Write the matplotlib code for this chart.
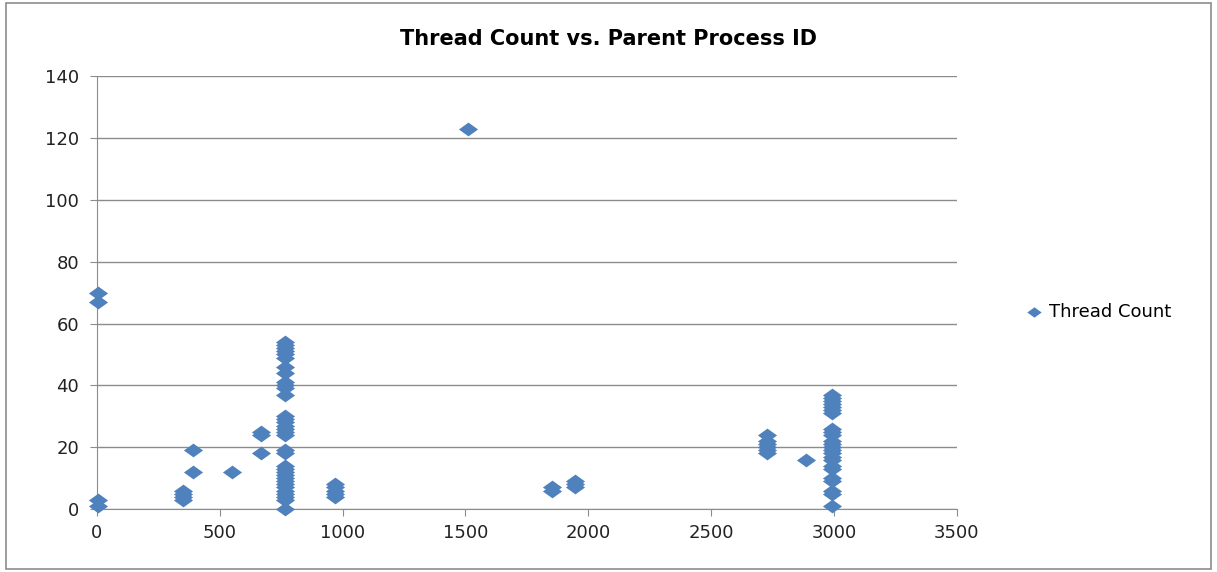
import numpy as np
import matplotlib.pyplot as plt
from matplotlib.patches import Rectangle

plt.rcParams['font.family'] = ['DejaVu Sans']

# parent process id -> thread counts seen for it
ppid = [4, 352, 392, 548, 668, 764, 968, 1512, 1852, 1944, 2728, 2888, 2992]
threads = [
    [1, 3, 67, 70],
    [3, 4, 5, 6],
    [12, 19],
    [12],
    [18, 24, 25],
    [0, 3, 4, 5, 6, 7, 8, 9, 10, 11, 12, 13, 14, 18, 19, 24, 25, 26, 27, 28,
     29, 30, 37, 39, 40, 41, 44, 46, 49, 50, 51, 52, 53, 54],
    [4, 5, 6, 7, 8],
    [123],
    [6, 7],
    [7, 8, 9],
    [18, 19, 20, 21, 22, 24],
    [16],
    [1, 5, 6, 9, 10, 13, 14, 16, 17, 18, 19, 20, 21, 22, 24, 25, 26, 31, 32,
     33, 34, 35, 36, 37],
]

x = []
y = []
for p, tl in zip(ppid, threads):
    for t in tl:
        x.append(p)
        y.append(t)

blue = '#4F81BD'
diamond = [(-1, 0), (0, 0.72), (1, 0), (0, -0.72), (-1, 0)]

fig = plt.figure(figsize=(12.17, 5.72), dpi=100)
ax = fig.add_axes([0.0797, 0.110, 0.7065, 0.757])

ax.scatter(x, y, marker=diamond, s=190, color=blue, linewidths=0,
           label='Thread Count', zorder=3, clip_on=False)

ax.set_xlim(0, 3500)
ax.set_ylim(0, 140)
ax.set_xticks(np.arange(0, 3501, 500))
ax.set_yticks(np.arange(0, 141, 20))
ax.yaxis.grid(True, color='#8c8c8c', linewidth=1)
ax.set_axisbelow(True)
for s in ['top', 'right']:
    ax.spines[s].set_visible(False)
for s in ['left', 'bottom']:
    ax.spines[s].set_color('#8c8c8c')
ax.tick_params(axis='both', direction='out', length=5, color='#8c8c8c',
               labelsize=13, labelcolor='#222222')
ax.tick_params(axis='y', pad=8)
ax.tick_params(axis='x', pad=6)

fig.suptitle('Thread Count vs. Parent Process ID', x=0.5, y=0.95,
             fontsize=15, fontweight='bold')

ax.legend(loc='center left', bbox_to_anchor=(1.05, 0.455), frameon=False,
          fontsize=13, handletextpad=-0.2, markerscale=0.75)

fig.patches.append(Rectangle((0.005, 0.005), 0.99, 0.99, transform=fig.transFigure,
                             fill=False, edgecolor='#8c8c8c', linewidth=1.2))

fig.savefig('out.png', dpi=100)
